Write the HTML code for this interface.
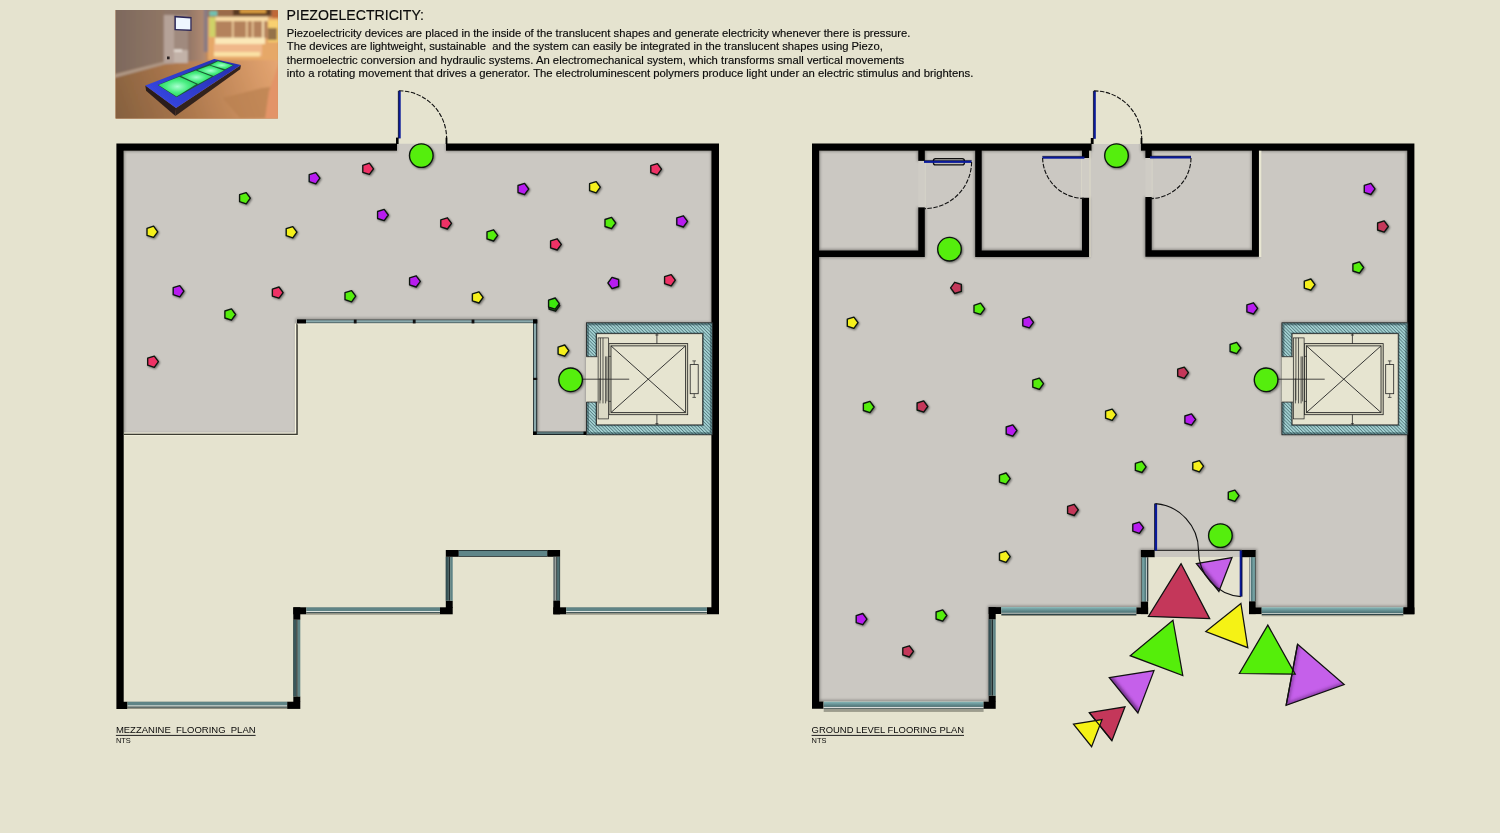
<!DOCTYPE html>
<html><head><meta charset="utf-8"><title>Piezoelectricity flooring plan</title>
<style>
html,body{margin:0;padding:0;background:#E5E3CF;}
body{width:1500px;height:833px;overflow:hidden;font-family:"Liberation Sans",Arial,Helvetica,sans-serif;}
svg{display:block;position:absolute;left:0;top:0}
text{font-family:"Liberation Sans",Arial,Helvetica,sans-serif;fill:#0a0a0a}
text.b{stroke:#0a0a0a;stroke-width:0.16px}
</style></head><body>
<svg width="1500" height="833" viewBox="0 0 1500 833">
<defs>
<pattern id="hatch" width="2.35" height="2.35" patternUnits="userSpaceOnUse" patternTransform="rotate(45)">
<rect width="2.35" height="2.35" fill="#a2d0d1"/><rect width="2.35" height="0.62" fill="#34545a" opacity="0.85"/>
</pattern>
<linearGradient id="wg" x1="0" y1="0" x2="0" y2="1"><stop offset="0" stop-color="#86b8b9"/><stop offset="1" stop-color="#4a6e71"/></linearGradient>
<linearGradient id="wgv" x1="0" y1="0" x2="1" y2="0"><stop offset="0" stop-color="#86b8b9"/><stop offset="1" stop-color="#4a6e71"/></linearGradient>
<linearGradient id="wgv2" x1="1" y1="0" x2="0" y2="0"><stop offset="0" stop-color="#86b8b9"/><stop offset="1" stop-color="#4a6e71"/></linearGradient>
<filter id="ds" x="-50%" y="-50%" width="200%" height="200%"><feGaussianBlur in="SourceAlpha" stdDeviation="1.0"/><feOffset dx="1.2" dy="0.9"/><feComponentTransfer><feFuncA type="linear" slope="0.5"/></feComponentTransfer><feMerge><feMergeNode/><feMergeNode in="SourceGraphic"/></feMerge></filter>
<filter id="b2" x="-20%" y="-20%" width="140%" height="140%"><feGaussianBlur stdDeviation="1.6"/></filter>
<filter id="b1" x="-20%" y="-20%" width="140%" height="140%"><feGaussianBlur stdDeviation="0.7"/></filter>
<filter id="pb" x="-10%" y="-10%" width="120%" height="120%"><feGaussianBlur stdDeviation="1.1"/></filter>
<filter id="pb3" x="-10%" y="-10%" width="120%" height="120%"><feGaussianBlur stdDeviation="3"/></filter>
<clipPath id="cl"><path d="M124,150.7H711.5V434.6H533V319.5H296.9V434H124Z M397,143.5H446V151H397Z"/></clipPath>
<clipPath id="cr"><path d="M819.2,150.8H1407.2V607.4H1255.7V550.4H1141V607.3H989.2V701.6H819.2Z M1091.6,143.6H1141V151H1091.6Z"/></clipPath>
<clipPath id="lc"><rect x="586" y="322.4" width="126" height="112"/></clipPath>
<clipPath id="ph"><rect x="115.6" y="10.1" width="162.3" height="108.5"/></clipPath>
</defs>
<rect width="1500" height="833" fill="#E5E3CF"/>

<g id="photo" clip-path="url(#ph)">
<linearGradient id="wallg" x1="0" y1="0" x2="1" y2="0"><stop offset="0" stop-color="#7b675b"/><stop offset="0.6" stop-color="#8a7263"/><stop offset="1" stop-color="#947866"/></linearGradient>
<linearGradient id="flg" gradientUnits="userSpaceOnUse" x1="116" y1="118" x2="278" y2="60"><stop offset="0" stop-color="#84603f"/><stop offset="0.35" stop-color="#a67349"/><stop offset="0.7" stop-color="#c88d5d"/><stop offset="1" stop-color="#e6a672"/></linearGradient>
<linearGradient id="rwg" x1="0" y1="0" x2="1" y2="0"><stop offset="0" stop-color="#927667"/><stop offset="1" stop-color="#b48c72"/></linearGradient>
<linearGradient id="blg" gradientUnits="userSpaceOnUse" x1="216" y1="59" x2="176" y2="108"><stop offset="0" stop-color="#2832b4"/><stop offset="1" stop-color="#3444dc"/></linearGradient>
<radialGradient id="grg" cx="0.5" cy="0.5" r="0.6"><stop offset="0" stop-color="#a8ffd0"/><stop offset="0.5" stop-color="#48ee80"/><stop offset="1" stop-color="#25c658"/></radialGradient>
<rect x="115" y="9" width="164" height="111" fill="#b8713f"/>
<g filter="url(#pb)">
<rect x="110" y="50" width="175" height="75" fill="url(#flg)"/>
<polygon points="223,98 262,88 279,86 279,118 240,118" fill="#b98050" opacity="0.7"/>
<polygon points="110,5 175,5 175,60 166,61.5 110,75" fill="url(#wallg)"/>
<polygon points="110,75.5 166,61.2 176,60 176,62.5 166,64 110,79" fill="#b09a88"/>
<rect x="163.8" y="14.6" width="10.4" height="49" fill="#b5a298"/>
<rect x="174" y="5" width="14" height="58" fill="#a08a7e"/>
<rect x="163.8" y="5" width="25" height="10" fill="#8e7668"/>
<rect x="174" y="50" width="13.8" height="13" fill="#c2b2a8"/>
<rect x="174" y="49.5" width="8" height="2" fill="#f0e8e0"/>
<rect x="188" y="5" width="18" height="56" fill="url(#rwg)"/>
<rect x="203.7" y="8" width="4.4" height="44" fill="#8a7a82"/>
<rect x="208" y="5" width="75" height="55" fill="#e6a868"/>
<rect x="208" y="9" width="70" height="8" fill="#9a6a48"/>
<rect x="233" y="9" width="38" height="6.5" fill="#5a3a22"/>
<rect x="240" y="10" width="26" height="3" fill="#e0a040"/>
<rect x="209.3" y="17" width="6.5" height="20" fill="#cfd268"/>
<rect x="209.3" y="11" width="8" height="5" fill="#70c0b0"/>
<rect x="215.6" y="20.5" width="52" height="18" fill="#b4825c"/>
<rect x="215.6" y="16.7" width="52.4" height="4.4" fill="#f8dca6"/>
<rect x="232" y="21" width="1.6" height="17" fill="#f0d0a0"/><rect x="246" y="21" width="1.6" height="17" fill="#f0d0a0"/><rect x="252" y="21" width="1.4" height="17" fill="#f0d0a0"/><rect x="262" y="21" width="2" height="17" fill="#f6dcae"/>
<rect x="215" y="37.6" width="50" height="6.4" fill="#fbe8b8"/>
<rect x="214" y="44" width="48" height="12" fill="#f0b88a"/>
<rect x="214" y="52" width="46" height="4.5" fill="#fbe2a6"/>
<rect x="268" y="20" width="12" height="22" fill="#f8d070"/>
<rect x="268" y="28" width="9" height="12" fill="#6a4a38" opacity="0.7"/>
<rect x="272" y="10" width="8" height="8" fill="#c06838"/>
<polygon points="265,119 268.9,91.5 279,63 279,119" fill="#e39468"/>
</g>
<g filter="url(#b1)">
<polygon points="174.4,15.8 191.6,17 191.6,30.9 174.4,30.3" fill="#2c2858"/>
<polygon points="175.9,17.4 190.3,18.4 190.3,29.5 175.9,28.9" fill="#eef6ff"/>
<rect x="167" y="56.5" width="2.6" height="2.8" fill="#2a2020"/>
<polygon points="145.3,85.4 176,108.1 175.4,116 146.1,90.8" fill="#2a1c1a"/>
<polygon points="176,108.1 241,65 240.2,69.2 175.4,116" fill="#33221c"/>
<polygon points="145.3,85.4 214.2,58.9 241,65 176,108.1" fill="url(#blg)"/>
<polygon points="157.6,85 217.8,60.6 233.8,65.2 176.6,97.2" fill="#1c5a34"/>
<polygon points="158.5,84.9 179.3,76.7 196.2,84.3 176.6,96.4" fill="url(#grg)"/>
<polygon points="181,76 195.9,70.6 211.7,76.6 198.1,83.9" fill="url(#grg)"/>
<polygon points="197.3,69.9 209.7,65.6 223.9,70.5 213.6,75.9" fill="url(#grg)"/>
<polygon points="210.4,65 218,61.2 232.8,65.2 225.2,69.3" fill="url(#grg)"/>
</g>
</g>
<g id="labels" opacity="0.995">
<text class="b" x="286.6" y="20.4" font-size="15.1" textLength="137.4" lengthAdjust="spacingAndGlyphs">PIEZOELECTRICITY:</text>
<text class="b" x="286.8" y="36.6" font-size="11.25" xml:space="preserve" textLength="623.6" lengthAdjust="spacingAndGlyphs">Piezoelectricity devices are placed in the inside of the translucent shapes and generate electricity whenever there is pressure.</text>
<text class="b" x="286.8" y="50.1" font-size="11.25" xml:space="preserve" textLength="596.0" lengthAdjust="spacingAndGlyphs">The devices are lightweight, sustainable  and the system can easily be integrated in the translucent shapes using Piezo,</text>
<text class="b" x="286.8" y="63.6" font-size="11.25" xml:space="preserve" textLength="617.4" lengthAdjust="spacingAndGlyphs">thermoelectric conversion and hydraulic systems. An electromechanical system, which transforms small vertical movements</text>
<text class="b" x="286.8" y="77.1" font-size="11.25" xml:space="preserve" textLength="686.6" lengthAdjust="spacingAndGlyphs">into a rotating movement that drives a generator. The electroluminescent polymers produce light under an electric stimulus and brightens.</text>
<text x="115.9" y="732.9" font-size="9.5" xml:space="preserve" textLength="139.7" lengthAdjust="spacingAndGlyphs">MEZZANINE  FLOORING  PLAN</text>
<rect x="115.9" y="734.9" width="139.7" height="1.0" fill="#222"/>
<text x="115.9" y="743.3" font-size="7.6" textLength="14.9" lengthAdjust="spacingAndGlyphs">NTS</text>
<text x="811.6" y="732.9" font-size="9.5" textLength="152.4" lengthAdjust="spacingAndGlyphs">GROUND LEVEL FLOORING PLAN</text>
<rect x="811.6" y="734.9" width="152.4" height="1.0" fill="#222"/>
<text x="811.6" y="743.3" font-size="7.6" textLength="14.9" lengthAdjust="spacingAndGlyphs">NTS</text>
</g>
<g id="leftplan">
<path d="M124,150.7H711.5V434.6H533V319.5H296.9V434H124Z M397,143.8H446V151H397Z" fill="#CBC8C2"/>
<g clip-path="url(#cl)" filter="url(#b2)" opacity="0.38"><path d="M116,147H397M446,147H719M120,143V712M715.5,143V615" stroke="#000" stroke-width="8.5" fill="none"/><path d="M586,322.4H712V434.4H586Z" fill="#000"/><path d="M296.9,434V319.5H537V434H586" stroke="#000" stroke-width="2" fill="none"/><path d="M124,434.6H297" stroke="#000" stroke-width="2"/></g>
<path d="M116.4,143.5H397V150.7H123.7V701.7H127.5V708.9H116.4Z" fill="#000"/>
<path d="M446,143.5H719V614.3H706.9V607.2H711.4V150.7H446Z" fill="#000"/>
<rect x="396.0" y="137.6" width="2.6" height="6.4" fill="#000"/>
<rect x="445.6" y="137.6" width="1.8" height="6.4" fill="#000"/>
<rect x="398.2" y="90.8" width="2.5" height="47.6" fill="#0a1a9a"/>
<path d="M398.3,90.8V138.4" stroke="#000" stroke-width="0.6"/>
<path d="M399,90.8A47.6,47.6 0 0 1 446.6,138" stroke="#111" stroke-width="1.1" fill="none" stroke-dasharray="4.5 1.5"/>
<path d="M124,433.2H295.5V323.6" stroke="#f6f4de" stroke-width="1.3" fill="none"/>
<path d="M124,434.35H297.1V323.4" stroke="#3c3c32" stroke-width="1.35" fill="none"/>
<path d="M124,435.5H298" stroke="#f2f0dc" stroke-width="0.9" fill="none"/>
<rect x="297.0" y="319.5" width="240.2" height="3.9" fill="#1c2628"/>
<rect x="306.0" y="320.2" width="227.0" height="2.4" fill="#8aa9ac"/>
<rect x="297.0" y="323.4" width="236.0" height="0.9" fill="#f4f2e2"/>
<rect x="353.8" y="319.6" width="2.8" height="3.8" fill="#111"/>
<rect x="412.8" y="319.6" width="2.8" height="3.8" fill="#111"/>
<rect x="471.6" y="319.6" width="2.8" height="3.8" fill="#111"/>
<rect x="297.0" y="319.5" width="9.0" height="3.9" fill="#000"/>
<rect x="533.0" y="319.5" width="4.2" height="115.5" fill="#1c2628"/>
<rect x="533.8" y="323.4" width="2.4" height="108.6" fill="#8aa9ac"/>
<rect x="533.0" y="377.8" width="4.2" height="2.2" fill="#111"/>
<rect x="533.0" y="319.5" width="4.2" height="3.9" fill="#000"/>
<rect x="533.0" y="431.6" width="53.0" height="3.4" fill="#1c2628"/>
<rect x="537.0" y="432.3" width="47.0" height="1.5" fill="#6d8d90"/>
<rect x="533.0" y="431.6" width="3.5" height="3.4" fill="#000"/>
<rect x="583.5" y="431.6" width="2.5" height="3.4" fill="#000"/>
<g transform="translate(0.4,0.4)"><rect x="586.0" y="322.4" width="126.0" height="112.0" fill="url(#hatch)"/><g clip-path="url(#lc)"><g filter="url(#b1)" opacity="0.45"><rect x="586" y="322.4" width="126" height="112" fill="none" stroke="#143238" stroke-width="5"/><rect x="596.2" y="333.3" width="106.1" height="91.2" fill="none" stroke="#143238" stroke-width="2.5"/></g></g><rect x="586" y="322.4" width="126" height="112" fill="none" stroke="#222" stroke-width="0.8"/><rect x="596.2" y="333.3" width="106.1" height="91.2" fill="#E6E4D0"/><rect x="596.2" y="333.3" width="106.1" height="91.2" fill="none" stroke="#222" stroke-width="0.8"/><rect x="585.6" y="356.3" width="11.4" height="45.4" fill="#E3E1CF"/><path d="M586,356.3H597M586,401.7H597" stroke="#222" stroke-width="0.8" fill="none"/><rect x="608.5" y="343.2" width="78.8" height="71.1" fill="#cfcdb8" stroke="#222" stroke-width="0.8"/><rect x="610.6" y="345.5" width="74.5" height="66.6" fill="#E6E4D0" stroke="#222" stroke-width="0.8"/><path d="M610.6,345.5L685.1,412.1M685.1,345.5L610.6,412.1" stroke="#222" stroke-width="0.9"/><rect x="597.7" y="337.5" width="10.5" height="81" fill="#dcdac6" stroke="#222" stroke-width="0.7"/><path d="M600,337.5V400M602.6,337.5V403M605.2,356V403M599.5,378V403M606.5,356V401" stroke="#222" stroke-width="0.7"/><path d="M608.2,356h2.4M608.2,401h2.4" stroke="#222" stroke-width="0.7"/><path d="M582,378.8H628.8" stroke="#222" stroke-width="0.8"/><rect x="689.8" y="364.2" width="8" height="29.1" fill="#E6E4D0" stroke="#222" stroke-width="0.8"/><path d="M693.8,360.5V364.2M692,360.5h3.6M693.8,393.3V397M692,397h3.6" stroke="#222" stroke-width="0.7"/><path d="M656.5,333.3V343.2M655,334.6h3M656.5,414.3V424.5M655,423.3h3" stroke="#222" stroke-width="0.8"/></g>
<rect x="127.50" y="701.70" width="159.70" height="0.50" fill="#4a6a6c" /><rect x="127.50" y="702.00" width="159.70" height="3.60" fill="#5f8486" /><rect x="127.50" y="705.60" width="159.70" height="0.90" fill="#dfe6e4" /><rect x="127.50" y="706.50" width="159.70" height="1.30" fill="#34494c" /><rect x="127.50" y="707.80" width="159.70" height="1.10" fill="#8a887a" />
<rect x="287.2" y="701.7" width="13.1" height="7.2" fill="#000"/>
<rect x="293.3" y="696.4" width="7.0" height="5.6" fill="#000"/>
<rect x="293.30" y="619.70" width="3.00" height="76.70" fill="#3a575b" /><rect x="293.30" y="619.70" width="0.50" height="76.70" fill="#24393c" /><rect x="296.30" y="619.70" width="1.40" height="76.70" fill="#222c2e" /><rect x="297.70" y="619.70" width="2.60" height="76.70" fill="#5f8486" />
<rect x="293.3" y="607.3" width="13.0" height="7.0" fill="#000"/>
<rect x="293.3" y="607.3" width="7.0" height="12.4" fill="#000"/>
<rect x="306.30" y="607.30" width="133.70" height="0.50" fill="#4a6a6c" /><rect x="306.30" y="607.60" width="133.70" height="3.60" fill="#5f8486" /><rect x="306.30" y="611.20" width="133.70" height="0.90" fill="#dfe6e4" /><rect x="306.30" y="612.10" width="133.70" height="1.30" fill="#34494c" /><rect x="306.30" y="613.40" width="133.70" height="1.20" fill="#8a887a" />
<rect x="440.0" y="607.3" width="12.7" height="7.0" fill="#000"/>
<rect x="445.8" y="600.7" width="6.9" height="7.3" fill="#000"/>
<rect x="445.80" y="556.80" width="3.00" height="43.90" fill="#3a575b" /><rect x="445.80" y="556.80" width="0.50" height="43.90" fill="#24393c" /><rect x="448.80" y="556.80" width="1.40" height="43.90" fill="#222c2e" /><rect x="450.20" y="556.80" width="2.50" height="43.90" fill="#5f8486" />
<rect x="445.8" y="550.0" width="13.0" height="6.8" fill="#000"/>
<rect x="458.80" y="550.00" width="88.50" height="6.80" fill="#1c2628" /><rect x="458.80" y="550.80" width="88.50" height="5.20" fill="#5f8588" />
<rect x="547.3" y="550.0" width="12.8" height="6.8" fill="#000"/>
<rect x="553.30" y="556.80" width="6.80" height="43.90" fill="#2a3638" /><rect x="553.60" y="556.80" width="0.80" height="43.90" fill="#c8ccc8" /><rect x="555.30" y="556.80" width="0.90" height="43.90" fill="#c8ccc8" /><rect x="557.10" y="556.80" width="2.40" height="43.90" fill="#4f7073" />
<rect x="553.3" y="600.7" width="6.8" height="13.6" fill="#000"/>
<rect x="553.3" y="607.3" width="12.9" height="7.0" fill="#000"/>
<rect x="566.20" y="607.30" width="140.70" height="0.50" fill="#4a6a6c" /><rect x="566.20" y="607.60" width="140.70" height="3.60" fill="#5f8486" /><rect x="566.20" y="611.20" width="140.70" height="0.90" fill="#dfe6e4" /><rect x="566.20" y="612.10" width="140.70" height="1.30" fill="#34494c" /><rect x="566.20" y="613.40" width="140.70" height="1.20" fill="#8a887a" />
<g filter="url(#ds)" stroke="#0c1410" stroke-width="1.35" stroke-linejoin="round">
<circle cx="421.3" cy="155.6" r="11.8" fill="#55EE0A"/>
<circle cx="570.6" cy="379.8" r="11.8" fill="#55EE0A"/>
<polygon points="559.7,305.6 555.6,311.2 549.0,309.1 549.0,302.1 555.6,300.0" fill="#1f7a10"/>
<polygon points="559.3,303.6 555.2,309.2 548.6,307.1 548.6,300.1 555.2,298.0" fill="#3ee80a"/>
<polygon points="157.7,231.8 153.6,237.4 147.0,235.3 147.0,228.3 153.6,226.2" fill="#F5F01E"/>
<polygon points="250.3,198.2 246.2,203.8 239.6,201.7 239.6,194.7 246.2,192.6" fill="#55EE0A"/>
<polygon points="319.9,178.2 315.8,183.8 309.2,181.7 309.2,174.7 315.8,172.6" fill="#B81FF0"/>
<polygon points="373.5,168.8 369.4,174.4 362.8,172.3 362.8,165.3 369.4,163.2" fill="#EE3366"/>
<polygon points="296.9,232.2 292.8,237.8 286.2,235.7 286.2,228.7 292.8,226.6" fill="#F5F01E"/>
<polygon points="388.3,215.0 384.2,220.6 377.6,218.5 377.6,211.5 384.2,209.4" fill="#B81FF0"/>
<polygon points="451.5,223.4 447.4,229.0 440.8,226.9 440.8,219.9 447.4,217.8" fill="#EE3366"/>
<polygon points="497.7,235.4 493.6,241.0 487.0,238.9 487.0,231.9 493.6,229.8" fill="#55EE0A"/>
<polygon points="528.7,189.0 524.6,194.6 518.0,192.5 518.0,185.5 524.6,183.4" fill="#B81FF0"/>
<polygon points="600.3,187.2 596.2,192.8 589.6,190.7 589.6,183.7 596.2,181.6" fill="#F5F01E"/>
<polygon points="661.5,169.2 657.4,174.8 650.8,172.7 650.8,165.7 657.4,163.6" fill="#EE3366"/>
<polygon points="615.7,223.0 611.6,228.6 605.0,226.5 605.0,219.5 611.6,217.4" fill="#55EE0A"/>
<polygon points="687.5,221.4 683.4,227.0 676.8,224.9 676.8,217.9 683.4,215.8" fill="#B81FF0"/>
<polygon points="561.3,244.4 557.2,250.0 550.6,247.9 550.6,240.9 557.2,238.8" fill="#EE3366"/>
<polygon points="183.9,291.2 179.8,296.8 173.2,294.7 173.2,287.7 179.8,285.6" fill="#B81FF0"/>
<polygon points="235.6,314.5 231.5,320.1 224.9,318.0 224.9,311.0 231.5,308.9" fill="#55EE0A"/>
<polygon points="283.1,292.6 279.0,298.2 272.4,296.1 272.4,289.1 279.0,287.0" fill="#EE3366"/>
<polygon points="355.7,296.2 351.6,301.8 345.0,299.7 345.0,292.7 351.6,290.6" fill="#55EE0A"/>
<polygon points="420.3,281.4 416.2,287.0 409.6,284.9 409.6,277.9 416.2,275.8" fill="#B81FF0"/>
<polygon points="483.1,297.4 479.0,303.0 472.4,300.9 472.4,293.9 479.0,291.8" fill="#F5F01E"/>
<polygon points="607.9,283.0 612.0,277.4 618.6,279.5 618.6,286.5 612.0,288.6" fill="#B81FF0"/>
<polygon points="675.3,280.2 671.2,285.8 664.6,283.7 664.6,276.7 671.2,274.6" fill="#EE3366"/>
<polygon points="568.8,350.6 564.7,356.2 558.1,354.1 558.1,347.1 564.7,345.0" fill="#F5F01E"/>
<polygon points="158.4,361.7 154.3,367.3 147.7,365.2 147.7,358.2 154.3,356.1" fill="#EE3366"/>
</g>
</g>
<g id="rightplan">
<path d="M819.2,150.8H1407.2V607.4H1255.7V550.4H1141V607.3H989.2V701.6H819.2Z M1091.6,143.9H1141V151H1091.6Z" fill="#CBC8C2"/>
<g clip-path="url(#cr)" filter="url(#b2)" opacity="0.38"><path d="M812,147H1091.6M1141,147H1415M815.6,143V712M1410.8,143V615" stroke="#000" stroke-width="8.5" fill="none"/><path d="M819,253.6H921.5V207.2M921.5,150V160.9M978.4,150V253.6H1085.6V197.6M1085.6,150V158M1148.6,150V158M1148.6,197V253.6H1255.4V150" stroke="#000" stroke-width="8" fill="none"/><rect x="1281.5" y="322.4" width="126" height="112" fill="#000"/><path d="M989.2,701.6V607.3H1141V550.4H1255.7V607.4H1407" stroke="#000" stroke-width="2.5" fill="none"/><path d="M819,701.6H989" stroke="#000" stroke-width="2.5"/></g>
<path d="M812,143.6H1091.6V150.8H819.2V701.6H823.5V708.8H812Z" fill="#000"/>
<path d="M1141,143.6H1414.4V614.2H1403.4V607.4H1407.2V150.8H1141Z" fill="#000"/>
<rect x="1090.8" y="138.0" width="2.8" height="6.0" fill="#000"/>
<rect x="1140.6" y="138.0" width="1.8" height="6.0" fill="#000"/>
<path d="M918.3,150H924.8V160.9H918.3Z M819,250.4H918.3V207.2H924.8V256.9H819Z" fill="#000"/>
<path d="M975.2,150H981.7V250.4H1082V197.6H1089.2V256.9H975.2Z M1082,150H1089.2V158H1082Z" fill="#000"/>
<path d="M1145.4,150H1151.7V158H1145.4Z M1145.4,197H1151.7V250.3H1252V150H1258.9V256.8H1145.4Z" fill="#000"/>
<rect x="1259.0" y="150.8" width="2.4" height="106.2" fill="#e8e6d2"/>
<rect x="1089.3" y="150.8" width="1.3" height="106.2" fill="#dddac8"/>
<rect x="1093.3" y="90.9" width="2.5" height="47.9" fill="#0a1a9a"/>
<path d="M1093.4,90.9V138.8" stroke="#000" stroke-width="0.6"/>
<path d="M1094,90.9A47.7,47.7 0 0 1 1141.7,138.5" stroke="#111" stroke-width="1.1" fill="none" stroke-dasharray="4.5 1.5"/>
<rect x="918.3" y="160.9" width="6.5" height="46.3" fill="#cfccc5"/><rect x="924.8" y="160.9" width="0.8" height="46.3" fill="#dad8ca"/>
<rect x="1082.0" y="158.0" width="7.2" height="39.6" fill="#cfccc5"/><rect x="1081.2" y="158.0" width="0.8" height="39.6" fill="#dad8ca"/>
<rect x="1145.4" y="158.0" width="6.3" height="39.0" fill="#cfccc5"/><rect x="1151.7" y="158.0" width="0.8" height="39.0" fill="#dad8ca"/>
<rect x="933.4" y="158.6" width="31" height="6.3" rx="2.2" fill="#bdbab3" stroke="#111" stroke-width="1.3"/>
<rect x="924.0" y="160.5" width="47.6" height="2.4" fill="#0a1a9a"/>
<path d="M924,160.4H971.6" stroke="#000" stroke-width="0.5"/>
<path d="M971.6,162A47,47 0 0 1 924.6,208.6" stroke="#111" stroke-width="1.1" fill="none" stroke-dasharray="4.5 1.5"/>
<rect x="1042.4" y="156.3" width="42.0" height="2.4" fill="#0a1a9a"/>
<path d="M1042.4,156.3H1084.4" stroke="#000" stroke-width="0.5"/>
<path d="M1042.6,158A41.4,41.4 0 0 0 1084,198.4" stroke="#111" stroke-width="1.1" fill="none" stroke-dasharray="4.5 1.5"/>
<rect x="1150.0" y="156.1" width="41.0" height="2.4" fill="#0a1a9a"/>
<path d="M1150,156.1H1191" stroke="#000" stroke-width="0.5"/>
<path d="M1191,158A41,41 0 0 1 1150.2,198.6" stroke="#111" stroke-width="1.1" fill="none" stroke-dasharray="4.5 1.5"/>
<g transform="translate(695.9,0.4)"><rect x="586.0" y="322.4" width="126.0" height="112.0" fill="url(#hatch)"/><g clip-path="url(#lc)"><g filter="url(#b1)" opacity="0.45"><rect x="586" y="322.4" width="126" height="112" fill="none" stroke="#143238" stroke-width="5"/><rect x="596.2" y="333.3" width="106.1" height="91.2" fill="none" stroke="#143238" stroke-width="2.5"/></g></g><rect x="586" y="322.4" width="126" height="112" fill="none" stroke="#222" stroke-width="0.8"/><rect x="596.2" y="333.3" width="106.1" height="91.2" fill="#E6E4D0"/><rect x="596.2" y="333.3" width="106.1" height="91.2" fill="none" stroke="#222" stroke-width="0.8"/><rect x="585.6" y="356.3" width="11.4" height="45.4" fill="#E3E1CF"/><path d="M586,356.3H597M586,401.7H597" stroke="#222" stroke-width="0.8" fill="none"/><rect x="608.5" y="343.2" width="78.8" height="71.1" fill="#cfcdb8" stroke="#222" stroke-width="0.8"/><rect x="610.6" y="345.5" width="74.5" height="66.6" fill="#E6E4D0" stroke="#222" stroke-width="0.8"/><path d="M610.6,345.5L685.1,412.1M685.1,345.5L610.6,412.1" stroke="#222" stroke-width="0.9"/><rect x="597.7" y="337.5" width="10.5" height="81" fill="#dcdac6" stroke="#222" stroke-width="0.7"/><path d="M600,337.5V400M602.6,337.5V403M605.2,356V403M599.5,378V403M606.5,356V401" stroke="#222" stroke-width="0.7"/><path d="M608.2,356h2.4M608.2,401h2.4" stroke="#222" stroke-width="0.7"/><path d="M582,378.8H628.8" stroke="#222" stroke-width="0.8"/><rect x="689.8" y="364.2" width="8" height="29.1" fill="#E6E4D0" stroke="#222" stroke-width="0.8"/><path d="M693.8,360.5V364.2M692,360.5h3.6M693.8,393.3V397M692,397h3.6" stroke="#222" stroke-width="0.7"/><path d="M656.5,333.3V343.2M655,334.6h3M656.5,414.3V424.5M655,423.3h3" stroke="#222" stroke-width="0.8"/></g>
<rect x="823.70" y="701.70" width="159.90" height="5.20" fill="url(#wg)" /><rect x="823.70" y="707.00" width="159.90" height="0.90" fill="#eef2f0" /><rect x="823.70" y="707.90" width="159.90" height="0.90" fill="#2c4144" /><rect x="823.70" y="708.80" width="159.90" height="2.30" fill="#9c9c8e" /><rect x="823.70" y="711.05" width="159.90" height="0.45" fill="#5a5a4e" />
<rect x="983.6" y="701.6" width="12.1" height="7.2" fill="#000"/>
<rect x="988.7" y="695.6" width="7.0" height="6.4" fill="#000"/>
<rect x="988.70" y="619.30" width="3.00" height="76.30" fill="#3a575b" /><rect x="988.70" y="619.30" width="0.50" height="76.30" fill="#24393c" /><rect x="991.70" y="619.30" width="1.40" height="76.30" fill="#222c2e" /><rect x="993.10" y="619.30" width="2.60" height="76.30" fill="#5f8486" />
<rect x="988.7" y="607.1" width="12.6" height="6.9" fill="#000"/>
<rect x="988.7" y="607.1" width="7.0" height="12.2" fill="#000"/>
<rect x="1001.30" y="607.10" width="135.10" height="5.80" fill="url(#wg)" /><rect x="1001.30" y="612.90" width="135.10" height="0.70" fill="#e4ecea" /><rect x="1001.30" y="613.60" width="135.10" height="1.40" fill="#2f4548" /><rect x="1001.30" y="615.00" width="135.10" height="1.00" fill="#8f8f80" />
<rect x="1136.4" y="607.4" width="11.7" height="6.7" fill="#000"/>
<rect x="1140.9" y="601.4" width="7.2" height="12.7" fill="#000"/>
<rect x="1141.30" y="557.20" width="7.00" height="44.20" fill="#222c2e" /><rect x="1142.20" y="557.20" width="3.90" height="44.20" fill="url(#wgv)" /><rect x="1146.20" y="557.20" width="0.90" height="44.20" fill="#e2eaea" />
<rect x="1140.9" y="550.0" width="13.9" height="7.2" fill="#000"/>
<rect x="1241.8" y="550.0" width="13.9" height="7.2" fill="#000"/>
<rect x="1154.8" y="550.3" width="87.0" height="6.7" fill="#c9c6bf"/>
<path d="M1154.8,550.4H1241.8" stroke="#111" stroke-width="0.9"/>
<path d="M1154.8,557.6H1241.8" stroke="#8a8878" stroke-width="1.2" filter="url(#b1)"/>
<rect x="1249.00" y="557.20" width="6.70" height="44.20" fill="#222c2e" /><rect x="1250.90" y="557.20" width="3.90" height="44.20" fill="url(#wgv2)" /><rect x="1249.90" y="557.20" width="0.90" height="44.20" fill="#e2eaea" /><rect x="1249.00" y="557.20" width="0.60" height="44.20" fill="#c8ccc8" />
<rect x="1249.0" y="601.4" width="6.7" height="12.7" fill="#000"/>
<rect x="1249.0" y="607.4" width="12.7" height="6.7" fill="#000"/>
<rect x="1261.70" y="607.30" width="141.70" height="5.80" fill="url(#wg)" /><rect x="1261.70" y="613.10" width="141.70" height="0.70" fill="#e4ecea" /><rect x="1261.70" y="613.80" width="141.70" height="1.40" fill="#2f4548" /><rect x="1261.70" y="615.20" width="141.70" height="1.00" fill="#8f8f80" />
<rect x="1403.4" y="607.4" width="11.0" height="6.8" fill="#000"/>
<rect x="1154.5" y="503.6" width="2.6" height="46.9" fill="#0a1a9a"/>
<path d="M1154.5,503.6V550.5" stroke="#000" stroke-width="0.6"/>
<rect x="1239.7" y="550.5" width="2.5" height="46.1" fill="#0a1a9a"/>
<path d="M1242,550.5V596.6" stroke="#000" stroke-width="0.6"/>
<g filter="url(#ds)" stroke="#0c1410" stroke-width="1.35" stroke-linejoin="round">
<circle cx="1116.5" cy="155.6" r="11.8" fill="#55EE0A"/>
<circle cx="949.5" cy="249.2" r="11.8" fill="#55EE0A"/>
<circle cx="1266.1" cy="379.8" r="11.8" fill="#55EE0A"/>
<circle cx="1220.4" cy="535.6" r="11.8" fill="#55EE0A"/>
<polygon points="950.6,287.9 954.7,282.3 961.3,284.4 961.3,291.4 954.7,293.5" fill="#C4375A"/>
<polygon points="984.7,308.8 980.6,314.4 974.0,312.3 974.0,305.3 980.6,303.2" fill="#55EE0A"/>
<polygon points="858.0,322.7 853.9,328.3 847.3,326.2 847.3,319.2 853.9,317.1" fill="#F5F01E"/>
<polygon points="1033.5,322.3 1029.4,327.9 1022.8,325.8 1022.8,318.8 1029.4,316.7" fill="#B81FF0"/>
<polygon points="1043.5,383.7 1039.4,389.3 1032.8,387.2 1032.8,380.2 1039.4,378.1" fill="#55EE0A"/>
<polygon points="874.1,407.0 870.0,412.6 863.4,410.5 863.4,403.5 870.0,401.4" fill="#55EE0A"/>
<polygon points="927.8,406.5 923.7,412.1 917.1,410.0 917.1,403.0 923.7,400.9" fill="#C4375A"/>
<polygon points="1116.3,414.7 1112.2,420.3 1105.6,418.2 1105.6,411.2 1112.2,409.1" fill="#F5F01E"/>
<polygon points="1016.9,430.5 1012.8,436.1 1006.2,434.0 1006.2,427.0 1012.8,424.9" fill="#B81FF0"/>
<polygon points="1375.0,188.9 1370.9,194.5 1364.3,192.4 1364.3,185.4 1370.9,183.3" fill="#B81FF0"/>
<polygon points="1388.3,226.5 1384.2,232.1 1377.6,230.0 1377.6,223.0 1384.2,220.9" fill="#C4375A"/>
<polygon points="1363.6,267.5 1359.5,273.1 1352.9,271.0 1352.9,264.0 1359.5,261.9" fill="#55EE0A"/>
<polygon points="1315.0,284.6 1310.9,290.2 1304.3,288.1 1304.3,281.1 1310.9,279.0" fill="#F5F01E"/>
<polygon points="1257.6,308.4 1253.5,314.0 1246.9,311.9 1246.9,304.9 1253.5,302.8" fill="#B81FF0"/>
<polygon points="1240.8,348.0 1236.7,353.6 1230.1,351.5 1230.1,344.5 1236.7,342.4" fill="#55EE0A"/>
<polygon points="1188.4,372.7 1184.3,378.3 1177.7,376.2 1177.7,369.2 1184.3,367.1" fill="#C4375A"/>
<polygon points="1195.6,419.5 1191.5,425.1 1184.9,423.0 1184.9,416.0 1191.5,413.9" fill="#B81FF0"/>
<polygon points="1010.2,478.6 1006.1,484.2 999.5,482.1 999.5,475.1 1006.1,473.0" fill="#55EE0A"/>
<polygon points="1078.3,509.9 1074.2,515.5 1067.6,513.4 1067.6,506.4 1074.2,504.3" fill="#C4375A"/>
<polygon points="1010.2,556.7 1006.1,562.3 999.5,560.2 999.5,553.2 1006.1,551.1" fill="#F5F01E"/>
<polygon points="866.9,619.1 862.8,624.7 856.2,622.6 856.2,615.6 862.8,613.5" fill="#B81FF0"/>
<polygon points="946.8,615.5 942.7,621.1 936.1,619.0 936.1,612.0 942.7,609.9" fill="#55EE0A"/>
<polygon points="913.5,651.4 909.4,657.0 902.8,654.9 902.8,647.9 909.4,645.8" fill="#C4375A"/>
<polygon points="1146.1,466.9 1142.0,472.5 1135.4,470.4 1135.4,463.4 1142.0,461.3" fill="#55EE0A"/>
<polygon points="1203.5,466.2 1199.4,471.8 1192.8,469.7 1192.8,462.7 1199.4,460.6" fill="#F5F01E"/>
<polygon points="1239.0,495.7 1234.9,501.3 1228.3,499.2 1228.3,492.2 1234.9,490.1" fill="#55EE0A"/>
<polygon points="1143.5,527.7 1139.4,533.3 1132.8,531.2 1132.8,524.2 1139.4,522.1" fill="#B81FF0"/>
</g>
<polygon points="1181.1,563.7 1148.4,616.4 1209.7,618.6" fill="#C4375A" stroke="#111" stroke-width="1.25" stroke-linejoin="miter" />
<clipPath id="tc1"><polygon points="1196.4,563.6 1232.0,557.6 1218.9,591.4"/></clipPath><polygon points="1196.4,563.6 1232.0,557.6 1218.9,591.4" fill="#C560EA"/><g clip-path="url(#tc1)"><g filter="url(#b2)" opacity="0.75"><path d="M1196.4,563.6L1218.9,591.4" stroke="#5a2470" stroke-width="6" fill="none"/></g></g><polygon points="1196.4,563.6 1232.0,557.6 1218.9,591.4" fill="none" stroke="#111" stroke-width="1.25" stroke-linejoin="miter"/>
<polygon points="1240.9,603.4 1205.8,631.6 1247.8,647.7" fill="#F5F215" stroke="#111" stroke-width="1.25" stroke-linejoin="miter" />
<polygon points="1173.0,620.3 1130.2,655.7 1182.8,675.5" fill="#55EE0A" stroke="#111" stroke-width="1.25" stroke-linejoin="miter" />
<clipPath id="tc2"><polygon points="1297.6,644.2 1344.2,684.6 1286.1,705.4"/></clipPath><polygon points="1297.6,644.2 1344.2,684.6 1286.1,705.4" fill="#C560EA"/><g clip-path="url(#tc2)"><g filter="url(#b2)" opacity="0.5"><path d="M1297.6,644.2L1286.1,705.4" stroke="#5a2470" stroke-width="5" fill="none"/><path d="M1344.2,684.6L1286.1,705.4" stroke="#5a2470" stroke-width="5" fill="none"/></g></g><polygon points="1297.6,644.2 1344.2,684.6 1286.1,705.4" fill="none" stroke="#111" stroke-width="1.25" stroke-linejoin="miter"/>
<polygon points="1267.8,625.1 1239.4,673.5 1295.2,674.2" fill="#55EE0A" stroke="#111" stroke-width="1.25" stroke-linejoin="miter" />
<path d="M1297.6,644.2L1286.1,705.4" stroke="#111" stroke-width="1.25"/>
<clipPath id="tc3"><polygon points="1109.3,677.7 1154.0,670.6 1137.9,713.0"/></clipPath><polygon points="1109.3,677.7 1154.0,670.6 1137.9,713.0" fill="#C560EA"/><g clip-path="url(#tc3)"><g filter="url(#b2)" opacity="0.75"><path d="M1109.3,677.7L1137.9,713.0" stroke="#5a2470" stroke-width="6" fill="none"/></g></g><polygon points="1109.3,677.7 1154.0,670.6 1137.9,713.0" fill="none" stroke="#111" stroke-width="1.25" stroke-linejoin="miter"/>
<polygon points="1089.3,712.7 1125.0,706.8 1111.9,740.7" fill="#C4375A" stroke="#111" stroke-width="1.25" stroke-linejoin="miter" />
<polygon points="1073.5,724.2 1102.0,719.6 1091.6,746.7" fill="#F5F215" stroke="#111" stroke-width="1.25" stroke-linejoin="miter" />
<path d="M1089.3,712.7L1111.9,740.7" stroke="#111" stroke-width="1.25"/>
<path d="M1155.3,503.6A46.8,46.8 0 0 1 1198.5,550.4" stroke="#111" stroke-width="1.15" fill="none"/>
<path d="M1240.8,596.6A46,46 0 0 1 1198.5,550.4" stroke="#111" stroke-width="1.15" fill="none"/>
</g>
</svg></body></html>
